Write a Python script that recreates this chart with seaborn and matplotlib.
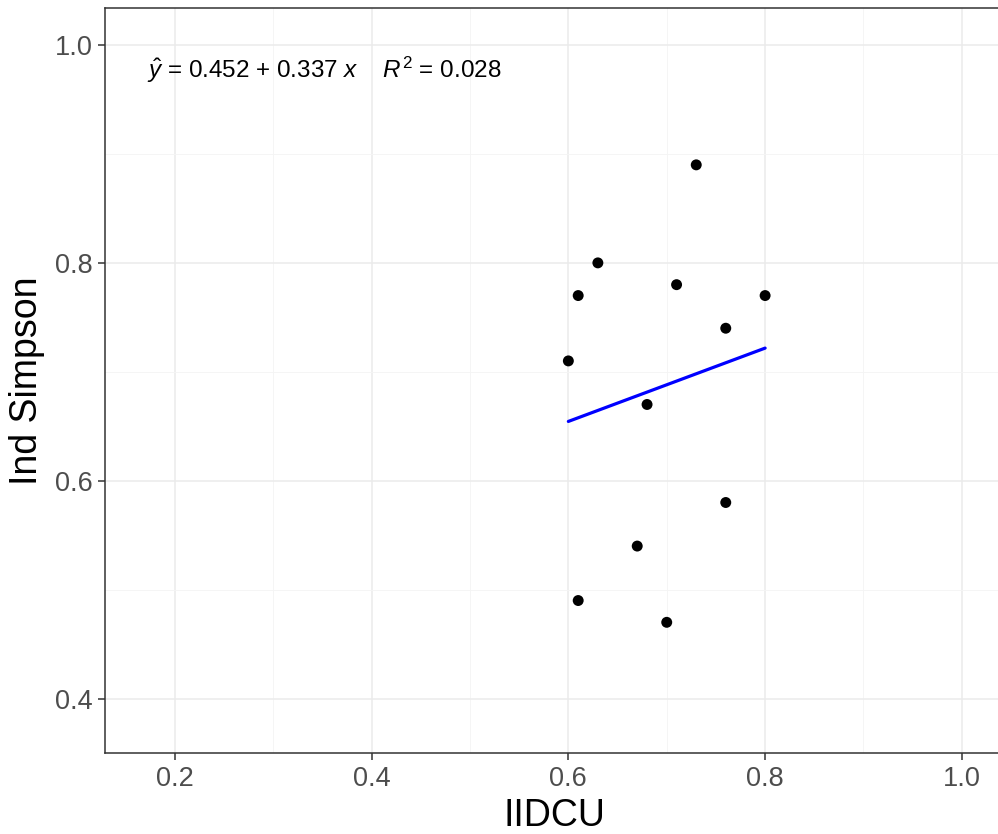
import numpy as np
import pandas as pd
import seaborn as sns
import matplotlib.pyplot as plt
from matplotlib.ticker import MultipleLocator

# data
iidcu = [0.60, 0.61, 0.63, 0.61, 0.67, 0.68, 0.70, 0.71, 0.73, 0.76, 0.76, 0.80]
ind_simpson = [0.71, 0.77, 0.80, 0.49, 0.54, 0.67, 0.47, 0.78, 0.89, 0.74, 0.58, 0.77]
eq_text = r'$\hat{y}$ = 0.452 $+$ 0.337 $x$    $R^2$ = 0.028'

df = pd.DataFrame({'IIDCU': iidcu, 'Ind Simpson': ind_simpson})

sns.set_theme(style='white')
plt.rcParams['font.family'] = ['Liberation Sans', 'DejaVu Sans']
plt.rcParams['mathtext.fontset'] = 'custom'
plt.rcParams['mathtext.rm'] = 'Liberation Sans'
plt.rcParams['mathtext.it'] = 'Liberation Sans:italic'

fig = plt.figure(figsize=(9.98, 8.34), dpi=100)
ax = fig.add_axes([0.1052, 0.0971, 0.9, 0.8933])

sns.regplot(data=df, x='IIDCU', y='Ind Simpson', ci=None, ax=ax,
            scatter_kws={'color': 'black', 's': 62, 'alpha': 1, 'edgecolor': 'none', 'zorder': 3},
            line_kws={'color': '#0000ff', 'lw': 2.3, 'zorder': 2})

ax.set_xlim(0.129, 1.042)
ax.set_ylim(0.350, 1.034)
ax.xaxis.set_minor_locator(MultipleLocator(0.1))
ax.yaxis.set_minor_locator(MultipleLocator(0.1))
ax.set_xticks([0.2, 0.4, 0.6, 0.8, 1.0])
ax.set_xticklabels(['0.2', '0.4', '0.6', '0.8', '1.0'])
ax.set_yticks([0.4, 0.6, 0.8, 1.0])
ax.set_yticklabels(['0.4', '0.6', '0.8', '1.0'])

ax.grid(True, which='major', color='#ebebeb', lw=1.1, zorder=0)
ax.grid(True, which='minor', color='#f4f4f4', lw=0.6, zorder=0)
ax.set_axisbelow(True)
for s in ax.spines.values():
    s.set_color('#333333')
    s.set_linewidth(1.1)

ax.tick_params(axis='both', which='major', bottom=True, left=True, length=5, width=1.1,
               color='#333333', labelsize=19.5, labelcolor='#4d4d4d', direction='out', pad=4)
ax.tick_params(axis='both', which='minor', length=0)

ax.set_xlabel('IIDCU', fontsize=27, color='black', labelpad=5)
ax.set_ylabel('Ind Simpson', fontsize=27, color='black', labelpad=7)

ax.text(0.172, 0.977, eq_text, fontsize=17.5, color='black', va='center', ha='left')

plt.savefig('out.png', dpi=100)
